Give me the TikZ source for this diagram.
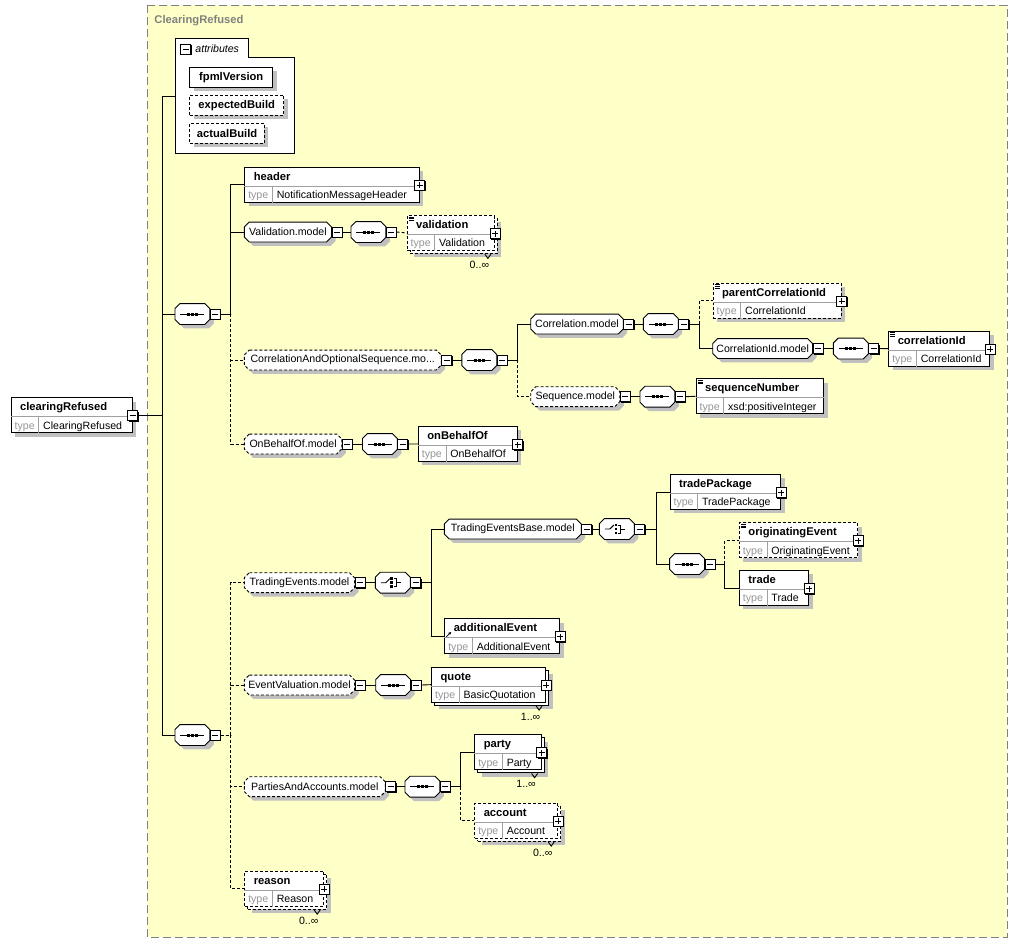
\documentclass[tikz,border=0pt]{standalone}
\usepackage{fontspec}
\setmainfont{Liberation Sans}
\usetikzlibrary{calc,shadows,arrows.meta}
\definecolor{paper}{RGB}{255,255,200}
\definecolor{shadowgray}{RGB}{192,192,192}
\definecolor{framegray}{RGB}{128,128,128}
\definecolor{typegray}{RGB}{150,150,150}
\definecolor{divgray}{RGB}{160,160,160}
% box with cut corners, for model groups and compositors
\makeatletter
\pgfdeclareshape{octo}{%
  \inheritsavedanchors[from=rectangle]%
  \inheritanchorborder[from=rectangle]%
  \inheritanchor[from=rectangle]{center}%
  \inheritanchor[from=rectangle]{north}%
  \inheritanchor[from=rectangle]{south}%
  \inheritanchor[from=rectangle]{east}%
  \inheritanchor[from=rectangle]{west}%
  \inheritanchor[from=rectangle]{north east}%
  \inheritanchor[from=rectangle]{north west}%
  \inheritanchor[from=rectangle]{south east}%
  \inheritanchor[from=rectangle]{south west}%
  \inheritanchor[from=rectangle]{base}%
  \backgroundpath{%
    \southwest \pgf@xa=\pgf@x \pgf@ya=\pgf@y
    \northeast \pgf@xb=\pgf@x \pgf@yb=\pgf@y
    \pgf@xc=\pgf@xa \advance\pgf@xc by 5pt
    \pgf@yc=\pgf@xb \advance\pgf@yc by -5pt
    \pgfutil@tempdima=\pgf@ya \advance\pgfutil@tempdima by 5pt
    \pgfutil@tempdimb=\pgf@yb \advance\pgfutil@tempdimb by -5pt
    \pgfpathmoveto{\pgfqpoint{\pgf@xc}{\pgf@yb}}%
    \pgfpathlineto{\pgfqpoint{\pgf@yc}{\pgf@yb}}%
    \pgfpathlineto{\pgfqpoint{\pgf@xb}{\pgfutil@tempdimb}}%
    \pgfpathlineto{\pgfqpoint{\pgf@xb}{\pgfutil@tempdima}}%
    \pgfpathlineto{\pgfqpoint{\pgf@yc}{\pgf@ya}}%
    \pgfpathlineto{\pgfqpoint{\pgf@xc}{\pgf@ya}}%
    \pgfpathlineto{\pgfqpoint{\pgf@xa}{\pgfutil@tempdima}}%
    \pgfpathlineto{\pgfqpoint{\pgf@xa}{\pgfutil@tempdimb}}%
    \pgfpathclose
  }%
}
\makeatother
\tikzset{%
  shad/.style={drop shadow={shadow xshift=4pt,shadow yshift=-4pt,opacity=1,fill=shadowgray}},
  dsh/.style={dash pattern=on 3pt off 2pt},
  elembox/.style={draw,fill=white,anchor=north west,minimum height=35,inner sep=0},
  divline/.style={draw=divgray,line width=0.7pt},
  nametext/.style={anchor=base west,inner sep=0,font=\fontsize{11.2}{13}\selectfont\bfseries},
  typetext/.style={anchor=base west,inner sep=0,font=\fontsize{10.6}{12}\selectfont},
  typelabel/.style={typetext,text=typegray},
  multtext/.style={inner sep=0,font=\fontsize{10.6}{12}\selectfont},
  attbox/.style={draw,fill=white,anchor=north west,minimum height=20,inner sep=0,font=\fontsize{11.2}{13}\selectfont\bfseries,shad},
  grp/.style={shape=octo,draw,fill=white,anchor=west,minimum height=19,inner sep=0,font=\fontsize{10.6}{12}\selectfont,shad},
  comp/.style={shape=octo,draw,fill=white,anchor=west,minimum width=34,minimum height=20,inner sep=0,shad},
  seqc/.style={comp,path picture={
    \coordinate (c) at (path picture bounding box.center);
    \draw ([xshift=-12pt]c) -- ([xshift=12pt]c);
    \draw[line width=3pt,dash pattern=on 3pt off 1pt] ([xshift=-5.5pt]c) -- ([xshift=5.5pt]c);}},
  choc/.style={comp,path picture={
    \coordinate (c) at (path picture bounding box.center);
    \draw ([xshift=-12pt]c) -- ([xshift=-7pt]c) -- ([shift={(-3pt,4pt)}]c);
    \draw[line width=2.6pt,dash pattern=on 2.6pt off 1.4pt] ([shift={(-1pt,5.3pt)}]c) -- ([shift={(-1pt,-5.3pt)}]c);
    \draw ([shift={(1pt,4pt)}]c) -- ([shift={(3.5pt,4pt)}]c) -- ([shift={(3.5pt,-4pt)}]c) -- ([shift={(1pt,-4pt)}]c);
    \draw ([xshift=3.5pt]c) -- ([xshift=8pt]c);}},
  pmbox/.style={rectangle,draw,fill=white,minimum size=10,inner sep=0,line width=0.8pt,
    drop shadow={shadow xshift=1pt,shadow yshift=-1pt,opacity=1,fill=black}},
  pmminus/.style={pmbox,path picture={
    \draw[line width=0.8pt] ([xshift=2pt]path picture bounding box.west) -- ([xshift=-2pt]path picture bounding box.east);}},
  pmplus/.style={pmminus,path picture={
    \draw[line width=0.8pt] ([xshift=2pt]path picture bounding box.west) -- ([xshift=-2pt]path picture bounding box.east);
    \draw[line width=0.8pt] ([yshift=2pt]path picture bounding box.south) -- ([yshift=-2pt]path picture bounding box.north);}}
}
% element box: name, x, y (top left), width, label, type
\newcommand{\elem}[7][shad]{%
  \node[elembox,#1,minimum width=#5] (#2) at (#3,#4) {};
  \draw[divline] ([yshift=-19.5pt]#2.north west) -- ([yshift=-19.5pt]#2.north east);
  \draw[divline] ([xshift=28pt,yshift=-19.5pt]#2.north west) -- ([xshift=28pt]#2.south west);
  \node[nametext] (#2-n) at ([xshift=9pt,yshift=-13.3pt]#2.north west) {#6};
  \node[typelabel] (#2-t) at ([xshift=3.5pt,yshift=4pt]#2.south west) {type};
  \node[typetext] (#2-v) at ([xshift=32pt,yshift=4pt]#2.south west) {#7};
}
% stacked element (maxOccurs > 1)
\newcommand{\selem}[7][]{%
  \node[elembox,shad,#1,minimum width=#5] (#2-b) at ($(#3,#4)+(3,3)$) {};
  \elem[#1]{#2}{#3}{#4}{#5}{#6}{#7}%
}
\newcommand{\plusbox}[1]{\node[pmplus] (#1-p) at ([yshift=-18.5pt]#1.north east) {};}
\newcommand{\occurs}[2]{%
  \draw ([shift={(-10pt,-3.3pt)}]#1.south east) -- ([shift={(-7pt,-7.5pt)}]#1.south east) -- ([shift={(-4pt,-3.3pt)}]#1.south east);
  \node[multtext] (#1-o) at ([shift={(-15.5pt,-14pt)}]#1.south east) {#2};}
\newcommand{\docicon}[1]{\foreach \d in {2,3.7,5.4}
  \draw[line width=0.7pt] ([xshift=2pt,yshift=-\d*1pt]#1.north west) -- ++(5,0);}
% model group and compositor, each with its minus box
\newcommand{\mgroup}[6][]{%
  \node[grp,#1,minimum width=#5] (#2) at (#3,#4) {#6};
  \node[pmminus,anchor=west] (#2-m) at (#2.east) {};}
\newcommand{\cmpst}[4][seqc]{%
  \node[#1] (#2) at (#3,#4) {};
  \node[pmminus,anchor=west] (#2-m) at (#2.east) {};}

\begin{document}
\begin{tikzpicture}[x=1pt,y=-1pt,line width=0.9pt]
  \fill[white] (0,0) rectangle (1018,943);
  \useasboundingbox (0,0) rectangle (1018,943);
  \draw[framegray,dash pattern=on 8pt off 4pt,fill=paper] (147.3,5) rectangle (1007,937.3);
  \node[anchor=base west,inner sep=0,text=framegray,font=\fontsize{11.2}{13}\selectfont\bfseries] (title) at (154,23.3) {ClearingRefused};

  % attributes
  \node[anchor=north west,minimum width=118.7,minimum height=114.7,inner sep=0] (attr) at (175.3,38.3) {};
  \draw[fill=white] (attr.south west) -- (attr.north west) -- ++(73,0) -- ++(0,18.7) -| (attr.south east) -- cycle;
  \node[pmminus] (attr-m) at (185.8,49) {};
  \node[anchor=base west,inner sep=0,font=\fontsize{10.6}{12}\selectfont\itshape] (attr-n) at (195,52.5) {attributes};
  \node[attbox,minimum width=83] (fpml) at (189.3,66.7) {fpmlVersion};
  \node[attbox,dsh,minimum width=94] (expb) at (189.3,95) {expectedBuild};
  \node[attbox,dsh,minimum width=74.7] (actb) at (189.3,122.7) {actualBuild};

  % root
  \elem{cr}{10.7}{397.3}{121}{clearingRefused}{ClearingRefused}
  \node[pmminus] (cr-m) at ([yshift=-18.5pt]cr.north east) {};
  \cmpst{seqA}{175}{314}
  \cmpst{seqB}{175}{735}

  % first sequence
  \elem{hdr}{244.3}{166.7}{174.4}{header}{NotificationMessageHeader} \plusbox{hdr}
  \mgroup{valg}{244.3}{232}{86.4}{Validation.model}
  \cmpst{valc}{351}{232}
  \selem[dsh]{val}{406.7}{215}{87.3}{validation}{Validation} \plusbox{val} \docicon{val} \occurs{val}{0..∞}
  \mgroup[dsh]{caosg}{244.3}{360}{196}{CorrelationAndOptionalSequence.mo...}
  \cmpst{caosc}{461.8}{360}
  \mgroup{corg}{530.7}{324}{91.6}{Correlation.model}
  \cmpst{corc}{643.3}{324}
  \elem[shad,dsh]{pcid}{712.7}{282.7}{128}{parentCorrelationId}{CorrelationId} \plusbox{pcid} \docicon{pcid}
  \mgroup{cidg}{712.7}{348.5}{99}{CorrelationId.model}
  \cmpst{cidc}{833.3}{348.5}
  \elem{cid}{888.3}{330.7}{101}{correlationId}{CorrelationId} \plusbox{cid} \docicon{cid}
  \mgroup[dsh]{sqg}{530.7}{396.7}{88.3}{Sequence.model}
  \cmpst{sqc}{640}{396.7}
  \elem{sqn}{695.7}{378.3}{127.6}{sequenceNumber}{xsd:positiveInteger} \docicon{sqn}
  \mgroup[dsh]{obog}{244.3}{444}{96.7}{OnBehalfOf.model}
  \cmpst{oboc}{362.5}{444}
  \elem{obo}{417.9}{426}{99}{onBehalfOf}{OnBehalfOf} \plusbox{obo}

  % second sequence
  \mgroup[dsh]{teg}{244.3}{582.7}{109.4}{TradingEvents.model}
  \cmpst[choc]{tec}{375.3}{582.7}
  \mgroup{tebg}{444.3}{529}{136}{TradingEventsBase.model}
  \cmpst[choc]{tebc}{599.4}{529}
  \elem{tpk}{669.6}{474}{110.6}{tradePackage}{TradePackage} \plusbox{tpk}
  \cmpst{tsc}{669.6}{564}
  \elem[shad,dsh]{oev}{739}{522.3}{118.3}{originatingEvent}{OriginatingEvent} \plusbox{oev} \docicon{oev}
  \elem{trd}{739}{570}{69.4}{trade}{Trade} \plusbox{trd}
  \elem{aev}{444.3}{618.3}{115}{additionalEvent}{AdditionalEvent} \plusbox{aev}
  \draw[-{Latex[length=3pt,width=3pt]},line width=0.8pt] ([shift={(2pt,-18.5pt)}]aev.north west) -- ++(5,-5);
  \mgroup[dsh]{evg}{244.3}{685}{109.4}{EventValuation.model}
  \cmpst{evc}{375.7}{685}
  \selem{quo}{431.2}{666.7}{114}{quote}{BasicQuotation} \plusbox{quo} \occurs{quo}{1..∞}
  \mgroup[dsh]{pag}{244.3}{786.7}{140}{PartiesAndAccounts.model}
  \cmpst{pac}{405}{786.7}
  \selem{pty}{474.3}{734.3}{66.4}{party}{Party} \plusbox{pty} \occurs{pty}{1..∞}
  \selem[dsh]{acc}{474.3}{802.7}{83}{account}{Account} \plusbox{acc} \occurs{acc}{0..∞}
  \selem[dsh]{rsn}{244.3}{870.7}{79}{reason}{Reason} \plusbox{rsn} \occurs{rsn}{0..∞}

  % connectors
  \draw (cr-m.east) -- ++(24,0) coordinate (mtr);
  \draw (mtr) |- (attr.west);
  \draw (mtr) |- (seqA.west);
  \draw (mtr) |- (seqB.west);

  \draw (seqA-m.east) -- ++(10,0) |- (hdr.west);
  \draw (seqA-m.east) -- ++(10,0) |- (valg.west);
  \draw[dsh] (seqA-m.east) -- ++(10,0) |- (caosg.west);
  \draw[dsh] (seqA-m.east) -- ++(10,0) |- (obog.west);
  \draw (valg-m.east) -- (valc.west);
  \draw[dsh] (valc-m.east) -- (val.west);
  \draw (caosg-m.east) -- (caosc.west);
  \draw (caosc-m.east) -- ++(10,0) |- (corg.west);
  \draw[dsh] (caosc-m.east) -- ++(10,0) |- (sqg.west);
  \draw (corg-m.east) -- (corc.west);
  \draw[dsh] (corc-m.east) -- ++(10,0) |- (pcid.west);
  \draw (corc-m.east) -- ++(10,0) |- (cidg.west);
  \draw (cidg-m.east) -- (cidc.west);
  \draw (cidc-m.east) -- (cid.west);
  \draw (sqg-m.east) -- (sqc.west);
  \draw (sqc-m.east) -- (sqn.west);
  \draw (obog-m.east) -- (oboc.west);
  \draw (oboc-m.east) -- (obo.west);

  \draw[dsh] (seqB-m.east) -- ++(10,0) |- (teg.west);
  \draw[dsh] (seqB-m.east) -- ++(10,0) |- (evg.west);
  \draw[dsh] (seqB-m.east) -- ++(10,0) |- (pag.west);
  \draw[dsh] (seqB-m.east) -- ++(10,0) |- (rsn.west);
  \draw (teg-m.east) -- (tec.west);
  \draw (tec-m.east) -- ++(10,0) |- (tebg.west);
  \draw (tec-m.east) -- ++(10,0) |- (aev.west);
  \draw (tebg-m.east) -- (tebc.west);
  \draw (tebc-m.east) -- ++(11,0) |- (tpk.west);
  \draw (tebc-m.east) -- ++(11,0) |- (tsc.west);
  \draw[dsh] (tsc-m.east) -- ++(9.5,0) |- (oev.west);
  \draw (tsc-m.east) -- ++(9.5,0) |- (trd.west);
  \draw (evg-m.east) -- (evc.west);
  \draw (evc-m.east) -- (quo.west);
  \draw (pag-m.east) -- (pac.west);
  \draw (pac-m.east) -- ++(10,0) |- (pty.west);
  \draw[dsh] (pac-m.east) -- ++(10,0) |- (acc.west);
\end{tikzpicture}
\end{document}
